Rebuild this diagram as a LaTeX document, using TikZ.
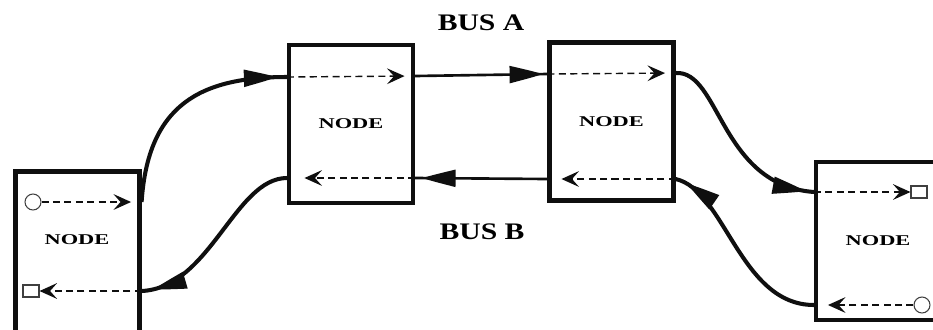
\documentclass[tikz,border=0pt]{standalone}
\usepackage{fontspec}
\setmainfont{Liberation Serif}
\usetikzlibrary{arrows.meta}
\usetikzlibrary{decorations.markings}
\definecolor{strich}{RGB}{15,15,15}
\tikzset{>={Stealth[length=10pt,width=9pt,inset=4pt]}}
\tikzset{
	knoten/.style={draw=strich, line width=2.4pt, minimum width=2.48cm, minimum height=3.16cm, font=\fontsize{8.5}{9}\selectfont\bfseries},
	bus/.style={draw=strich, line width=1.5pt},
	bogen/.style={draw=strich, line width=2.3pt},
	hilfs/.style={draw=strich, line width=0.8pt, dash pattern=on 4pt off 2.5pt, ->},
	spitze/.style={decoration={markings, mark=at position #1 with {\fill[strich] (2pt,0) .. controls (-5pt,2pt) .. (-17pt,5pt) -- (-17pt,-5pt) .. controls (-5pt,-2pt) .. (2pt,0);}}, postaction={decorate}},
	anschluss/.style={draw=strich!80, line width=0.6pt, inner sep=0pt},
	busname/.style={font=\fontsize{13.5}{15}\selectfont\bfseries},
}

\begin{document}
\begin{tikzpicture}[x=0.02cm, y=-0.02cm]
	\clip (0,0) rectangle (933,329);

	\node[knoten, minimum height=3.42cm] (n1) at (77.5,257) {};
	\node[font=\fontsize{8.5}{9}\selectfont\bfseries] (t1) at (77,240) {\scalebox{1.5}[1]{NODE}};
	\node[knoten] (n2) at (351,124) {\scalebox{1.5}[1]{NODE}};
	\node[knoten] (n3) at (611.5,121.5) {\scalebox{1.5}[1]{NODE}};
	\node[knoten] (n4) at (878,241) {\scalebox{1.5}[1]{NODE}};

	\node[busname] (busA) at (481,23) {\scalebox{1.25}[1]{BUS A}};
	\node[busname] (busB) at (482,232) {\scalebox{1.25}[1]{BUS B}};

	\node[anschluss, circle, minimum size=0.32cm] (o1) at (33,202) {};
	\node[anschluss, minimum width=0.32cm, minimum height=0.24cm] (s1) at (31,291) {};
	\node[anschluss, minimum width=0.32cm, minimum height=0.24cm] (s4) at (919,192) {};
	\node[anschluss, circle, minimum size=0.32cm] (o4) at (922,305) {};

	% bus A
	\coordinate (a1) at (n1.east |- o1);
	\coordinate (a2) at (n2.west |- 0,77);
	\coordinate (a3) at (n2.east |- 0,76);
	\coordinate (a4) at (n3.west |- 0,74);
	\coordinate (a5) at (n3.east |- 0,73);
	\coordinate (a6) at (n4.west |- s4);
	% bus B
	\coordinate (b6) at (n4.west |- o4);
	\coordinate (b5) at (n3.east |- 0,179);
	\coordinate (b4) at (n3.west |- 0,179);
	\coordinate (b3) at (n2.east |- 0,178);
	\coordinate (b2) at (n2.west |- 0,178);
	\coordinate (b1) at (n1.east |- s1);

	\draw[hilfs, shorten >=6pt] (o1) -- (a1);
	\draw[bogen, spitze=0.94] (a1) .. controls (148,105) and (200,77) .. (a2);
	\draw[hilfs, shorten >=6pt] (a2) -- (a3);
	\draw[bus, spitze=0.94] (a3) -- (a4);
	\draw[hilfs, shorten >=6pt] (a4) -- (a5);
	\draw[bogen, spitze=0.94] (a5) .. controls (720,70) and (720,185) .. (a6);
	\draw[hilfs] (a6) -- (s4);

	\draw[hilfs, shorten >=8pt] (o4) -- (b6);
	\draw[bogen, spitze=0.92] (b6) .. controls (740,305) and (725,190) .. (b5);
	\draw[hilfs, shorten >=8pt] (b5) -- (b4);
	\draw[bus, spitze=0.92] (b4) -- (b3);
	\draw[hilfs, shorten >=10pt] (b3) -- (b2);
	\draw[bogen, spitze=0.92] (b2) .. controls (235,178) and (210,288) .. (b1);
	\draw[hilfs] (b1) -- (s1);

\end{tikzpicture}
\end{document}
